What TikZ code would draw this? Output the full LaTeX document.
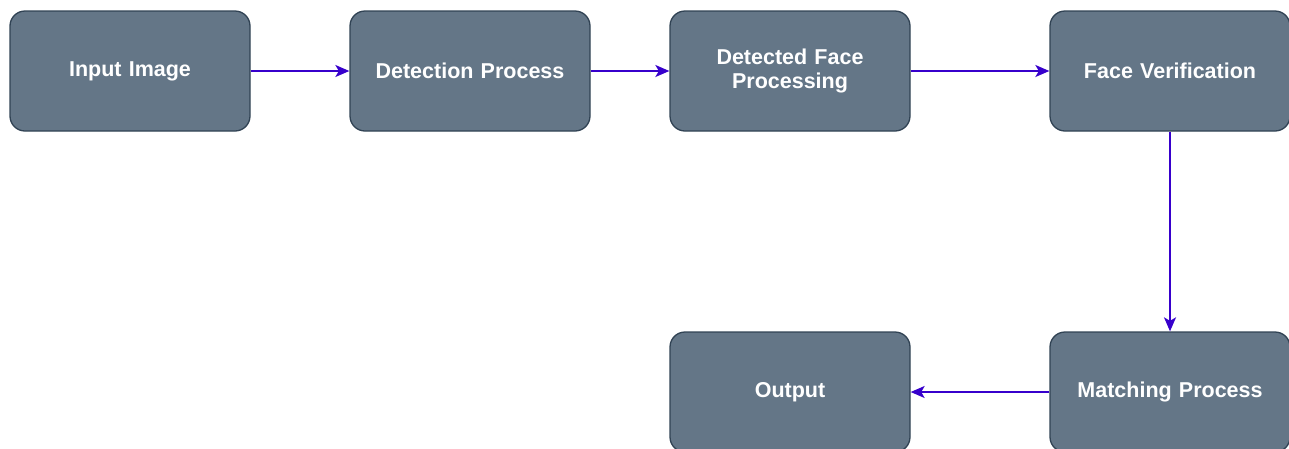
\documentclass[tikz,border=0pt]{standalone}
\usepackage{fontspec}
\setmainfont{Liberation Sans}
\usetikzlibrary{arrows.meta}
\definecolor{boxfill}{HTML}{647687}
\definecolor{boxline}{HTML}{314354}
\definecolor{arrowc}{HTML}{3700CC}
\tikzset{
  procbox/.style={draw=boxline, fill=boxfill, line width=1.3pt, rounded corners=15pt,
    minimum width=240pt, minimum height=120pt, inner sep=0pt, text=white,
    font=\fontsize{21.5}{24}\selectfont\bfseries, align=center, text width=230pt},
  flow/.style={draw=arrowc, line width=1.7pt, -{Stealth[length=14pt,width=12pt,inset=3.5pt]}}
}
\begin{document}
\begin{tikzpicture}[x=1pt,y=-1pt]
\useasboundingbox (0,0) rectangle (1289,448);
\node[procbox] (input) at (130,71) {Input Image};
\node[procbox] (detect) at (470,71) {Detection Process};
\node[procbox] (dface) at (790,71) {Detected Face\\Processing};
\node[procbox] (verify) at (1170,71) {Face Verification};
\node[procbox] (match) at (1170,392) {Matching Process};
\node[procbox] (output) at (790,392) {Output};
\draw[flow] (input) -- (detect);
\draw[flow] (detect) -- (dface);
\draw[flow] (dface) -- (verify);
\draw[flow] (verify) -- (match);
\draw[flow] (match) -- (output);
\end{tikzpicture}
\end{document}
